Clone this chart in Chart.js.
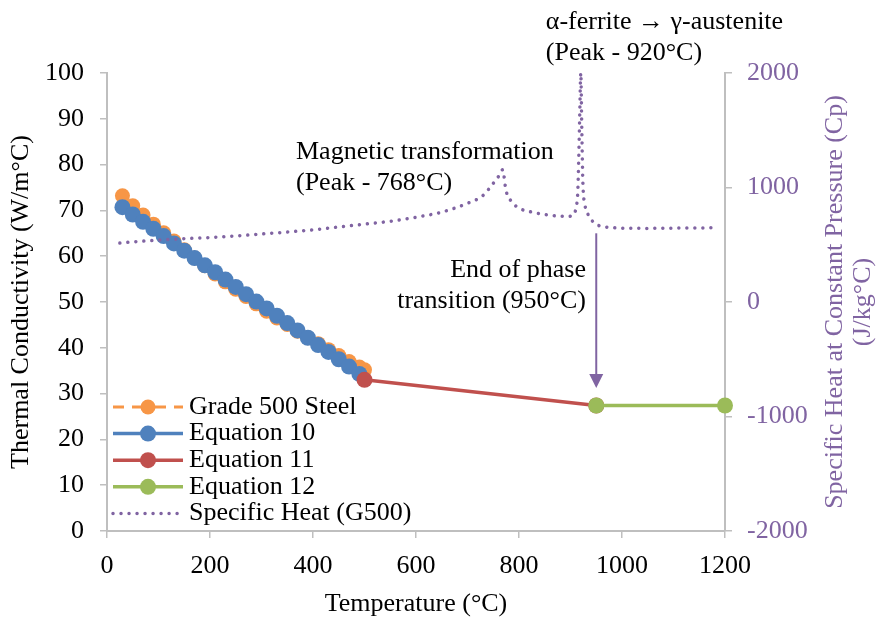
<!DOCTYPE html>
<html>
<head>
<meta charset="utf-8">
<title>Thermal conductivity and specific heat of G500 steel</title>
<script src="https://cdn.jsdelivr.net/npm/chart.js@4.4.1/dist/chart.umd.min.js"></script>
<style>
  html, body { margin: 0; padding: 0; background: #fff; }
  #wrap { width: 878px; height: 622px; }
</style>
</head>
<body>
<div id="wrap"><canvas id="kChart" width="878" height="622"></canvas></div>
<script>
// Grade 500 steel, measured thermal conductivity (W/m°C)
const g500Temp = [30, 50, 70, 90, 110, 130, 150, 170, 190, 210, 230, 250, 270, 290, 310, 330, 350, 370, 390, 410, 430, 450, 470, 490, 500];
const g500K = [73.2, 71.0, 69.0, 67.0, 65.1, 63.3, 61.4, 59.6, 57.9, 56.1, 54.4, 52.8, 51.2, 49.6, 48.0, 46.5, 45.1, 43.6, 42.2, 40.9, 39.6, 38.3, 37.0, 35.8, 35.2];

// Equation 10 (up to 500°C)
const eq10Temp = [30, 50, 70, 90, 110, 130, 150, 170, 190, 210, 230, 250, 270, 290, 310, 330, 350, 370, 390, 410, 430, 450, 470, 490];
const eq10K = [70.7, 69.1, 67.5, 66.0, 64.4, 62.8, 61.2, 59.6, 58.0, 56.5, 54.9, 53.3, 51.7, 50.1, 48.6, 47.0, 45.4, 43.8, 42.2, 40.6, 39.1, 37.5, 35.9, 34.3];

// Equation 11 (500-950°C) and Equation 12 (950-1200°C)
const eq11Temp = [500, 950];
const eq11K = [33.0, 27.4];
const eq12Temp = [950, 1200];
const eq12K = [27.4, 27.4];

// Specific heat of G500 (J/kg°C), right axis
const cpTemp = [25, 50, 100, 150, 200, 250, 300, 350, 400, 450, 500, 550, 600, 650, 700, 730, 750, 760, 768,
  775, 785, 800, 825, 850, 875, 895, 906, 911, 914, 916, 918, 920, 922, 924, 928, 934, 944, 955, 967, 985,
  1000, 1050, 1100, 1150, 1185];
const cpVal = [515, 525, 540, 553, 563, 577, 594, 611, 630, 655, 680, 705, 740, 785, 862, 930, 1036, 1095, 1155,
  970, 880, 820, 785, 765, 750, 748, 760, 830, 950, 1250, 1650, 2000, 1500, 1050, 850, 765, 700, 668, 656, 648,
  645, 643, 645, 647, 648];

// Axis ranges and tick steps
const xRange = [0, 1200, 200];
const kRange = [0, 100, 10];
const cpRange = [-2000, 2000, 1000];

// Text notes, placed in data units [temperature, conductivity]
const notes = [
  { lines: ['Magnetic transformation', '(Peak - 768°C)'], at: [367, 82.8], align: 'left' },
  { lines: ['α-ferrite → γ-austenite', '(Peak - 920°C)'], at: [852, 111.1], align: 'left' },
  { lines: ['End of phase', 'transition (950°C)'], at: [930, 57.0], align: 'right' }
];
// arrow from the Cp curve down to the start of Equation 12
const arrowTemp = 950;
const arrowCpStart = 600;
const arrowKEnd = 31.2;

const FONT = "'Liberation Serif', 'Times New Roman', serif";
const PURPLE = '#8064A2';
const AXIS_GREY = '#BFBFBF';

const toXY = (xs, ys) => xs.map((v, i) => ({ x: v, y: ys[i] }));

const overlay = {
  id: 'overlay',
  afterDatasetsDraw(chart) {
    const { ctx, scales } = chart;
    const ax = scales.x.getPixelForValue(arrowTemp);
    const ay0 = scales.y2.getPixelForValue(arrowCpStart);
    const ay1 = scales.y.getPixelForValue(arrowKEnd);
    ctx.save();
    ctx.strokeStyle = PURPLE;
    ctx.fillStyle = PURPLE;
    ctx.lineWidth = 2;
    ctx.beginPath();
    ctx.moveTo(ax, ay0);
    ctx.lineTo(ax, ay1 - 12);
    ctx.stroke();
    ctx.beginPath();
    ctx.moveTo(ax - 7, ay1 - 14);
    ctx.lineTo(ax + 7, ay1 - 14);
    ctx.lineTo(ax, ay1);
    ctx.closePath();
    ctx.fill();
    ctx.restore();
  },
  afterDraw(chart) {
    const { ctx, scales, chartArea } = chart;
    ctx.save();
    ctx.font = '26px ' + FONT;
    ctx.fillStyle = '#000';
    ctx.textBaseline = 'middle';

    // notes
    notes.forEach(n => {
      const px = scales.x.getPixelForValue(n.at[0]);
      const py = scales.y.getPixelForValue(n.at[1]);
      ctx.textAlign = n.align;
      n.lines.forEach((t, i) => ctx.fillText(t, px, py + i * 31));
    });

    // legend, bottom-left inside the plot
    const lx0 = 113, lx1 = 183, ly0 = 407, row = 26.6;
    chart.data.datasets.forEach((ds, i) => {
      const ly = ly0 + i * row;
      ctx.save();
      ctx.strokeStyle = ds.borderColor;
      ctx.lineWidth = ds.borderWidth;
      ctx.lineCap = ds.borderCapStyle || 'butt';
      ctx.setLineDash(ds.borderDash || []);
      if (ds.legendDashOffset) ctx.lineDashOffset = ds.legendDashOffset;
      ctx.beginPath();
      ctx.moveTo(lx0, ly);
      ctx.lineTo(lx1, ly);
      ctx.stroke();
      ctx.restore();
      if (ds.pointRadius > 0) {
        ctx.beginPath();
        ctx.fillStyle = ds.pointBackgroundColor;
        ctx.arc((lx0 + lx1) / 2, ly, ds.pointRadius, 0, Math.PI * 2);
        ctx.fill();
      }
      ctx.fillStyle = '#000';
      ctx.textAlign = 'left';
      ctx.fillText(ds.label, lx1 + 6, ly);
    });

    // right axis title, reading bottom to top
    const cy = (chartArea.top + chartArea.bottom) / 2;
    ctx.translate(835, cy);
    ctx.rotate(-Math.PI / 2);
    ctx.fillStyle = PURPLE;
    ctx.textAlign = 'center';
    ctx.fillText('Specific Heat at Constant Pressure (Cp)', 0, 0);
    ctx.fillText('(J/kg°C)', 0, 28);
    ctx.restore();
  }
};

const tickFont = { family: FONT, size: 26 };
const plainNumber = v => String(v);
const axisGrid = { drawOnChartArea: false, drawTicks: true, tickLength: 7, color: AXIS_GREY, lineWidth: 1.5 };
const axisBorder = { color: AXIS_GREY, width: 2 };

new Chart(document.getElementById('kChart'), {
  type: 'line',
  data: {
    datasets: [{
      label: 'Grade 500 Steel',
      data: toXY(g500Temp, g500K),
      borderColor: '#F79646',
      backgroundColor: '#F79646',
      pointBackgroundColor: '#F79646',
      pointBorderColor: '#F79646',
      borderWidth: 3,
      borderDash: [13, 8],
      legendDashOffset: 2,
      pointRadius: 7.5,
      pointBorderWidth: 0,
      yAxisID: 'y',
      order: 5,
      clip: false
    }, {
      label: 'Equation 10',
      data: toXY(eq10Temp, eq10K),
      borderColor: '#4F81BD',
      backgroundColor: '#4F81BD',
      pointBackgroundColor: '#4F81BD',
      pointBorderColor: '#4F81BD',
      borderWidth: 3.5,
      pointRadius: 8,
      pointBorderWidth: 0,
      yAxisID: 'y',
      order: 4,
      clip: false
    }, {
      label: 'Equation 11',
      data: toXY(eq11Temp, eq11K),
      borderColor: '#C0504D',
      backgroundColor: '#C0504D',
      pointBackgroundColor: '#C0504D',
      pointBorderColor: '#C0504D',
      borderWidth: 3.5,
      pointRadius: 8,
      pointBorderWidth: 0,
      yAxisID: 'y',
      order: 3,
      clip: false
    }, {
      label: 'Equation 12',
      data: toXY(eq12Temp, eq12K),
      borderColor: '#9BBB59',
      backgroundColor: '#9BBB59',
      pointBackgroundColor: '#9BBB59',
      pointBorderColor: '#9BBB59',
      borderWidth: 3.5,
      pointRadius: 8,
      pointBorderWidth: 0,
      yAxisID: 'y',
      order: 2,
      clip: false
    }, {
      label: 'Specific Heat (G500)',
      data: toXY(cpTemp, cpVal),
      borderColor: PURPLE,
      backgroundColor: PURPLE,
      borderWidth: 3.5,
      borderDash: [0.01, 8],
      borderCapStyle: 'round',
      cubicInterpolationMode: 'monotone',
      pointRadius: 0,
      yAxisID: 'y2',
      order: 1,
      clip: false
    }]
  },
  options: {
    responsive: false,
    animation: false,
    events: [],
    layout: { padding: { top: 73, left: 0, right: 0, bottom: 0 } },
    plugins: {
      legend: { display: false },
      tooltip: { enabled: false }
    },
    scales: {
      x: {
        type: 'linear',
        min: xRange[0],
        max: xRange[1],
        ticks: { stepSize: xRange[2], font: tickFont, color: '#000', padding: 13, maxRotation: 0, callback: plainNumber },
        grid: axisGrid,
        border: axisBorder,
        title: {
          display: true,
          text: 'Temperature (°C)',
          color: '#000',
          font: { family: FONT, size: 26, lineHeight: 1.2 },
          padding: { top: 0, bottom: 2 }
        },
        afterFit(scale) { scale.height = 91; }
      },
      y: {
        position: 'left',
        min: kRange[0],
        max: kRange[1],
        ticks: { stepSize: kRange[2], font: tickFont, color: '#000', padding: 16, callback: plainNumber },
        grid: axisGrid,
        border: axisBorder,
        title: {
          display: true,
          text: 'Thermal Conductivity (W/m°C)',
          color: '#000',
          font: { family: FONT, size: 26, lineHeight: 1.2 },
          padding: { top: 6, bottom: 0 }
        },
        afterFit(scale) { scale.width = 107; }
      },
      y2: {
        position: 'right',
        min: cpRange[0],
        max: cpRange[1],
        ticks: { stepSize: cpRange[2], font: tickFont, color: PURPLE, padding: 15, callback: plainNumber },
        grid: axisGrid,
        border: axisBorder,
        afterFit(scale) { scale.width = 153; }
      }
    }
  },
  plugins: [overlay]
});
</script>
</body>
</html>
